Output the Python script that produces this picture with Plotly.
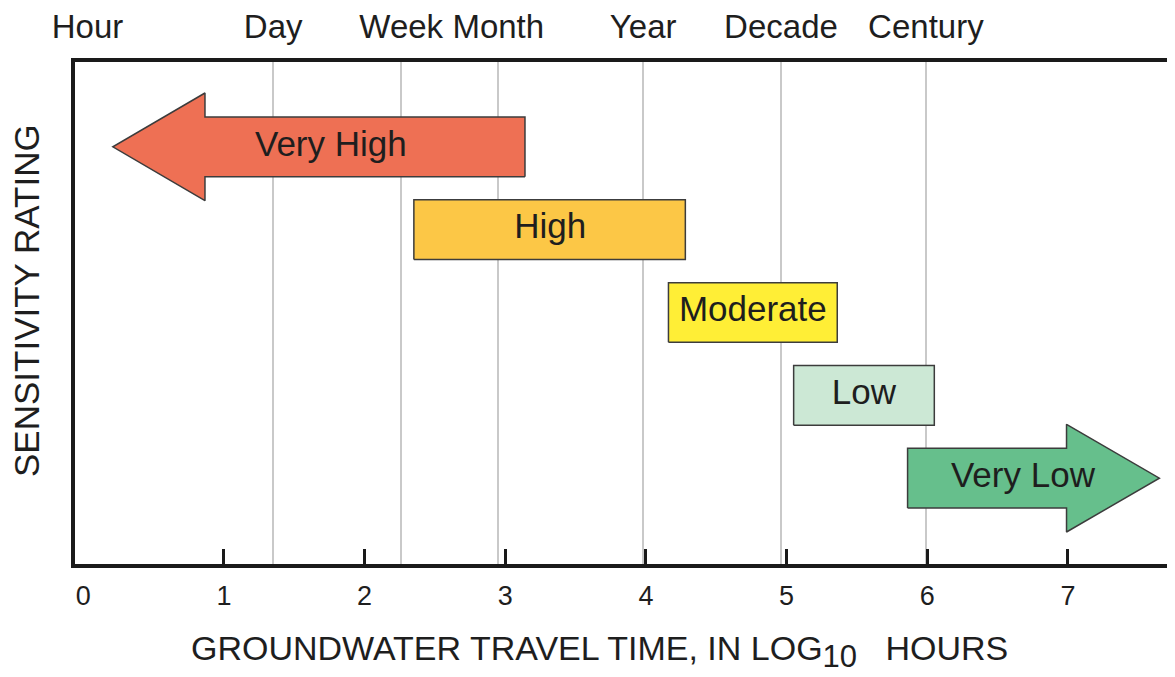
import plotly.graph_objects as go

# ---------------- data ----------------
ratings = ["Very High", "High", "Moderate", "Low", "Very Low"]
rating_level = [5, 4, 3, 2, 1]
range_start = [0.21, 2.35, 4.16, 5.05, 5.86]      # log10 hours
range_end = [3.14, 4.28, 5.36, 6.05, 7.65]        # log10 hours
arrow_head_base = [0.865, None, None, None, 6.99]
shape_kind = ["left", "box", "box", "box", "right"]
label_x = [1.76, 3.32, 4.76, 5.55, 6.68]
fill_colors = ["#EE7054", "#FCC746", "#FFEE36", "#CCE8D5", "#66BF8C"]

time_units = ["Hour", "Day", "Week", "Month", "Year", "Decade", "Century"]
time_unit_log_hours = [0.03, 1.35, 2.26, 2.95, 3.98, 4.96, 5.99]

x_ticks = [0, 1, 2, 3, 4, 5, 6, 7]
x_tick_labels = ["0", "1", "2", "3", "4", "5", "6", "7"]

x_title = ("GROUNDWATER TRAVEL TIME, IN LOG"
           "<sub><span style='font-size:31px'>10</span></sub>&nbsp;&nbsp;&nbsp;HOURS")
y_title = "SENSITIVITY RATING"

# ---------------- styling ----------------
FONT = "Liberation Sans, Arial, Helvetica, sans-serif"
TXT = "#1e1e1e"
BOX_H = 0.36     # half height of box / shaft (y units)
HEAD_H = 0.65    # half height of arrow head
X_RANGE = [-0.059, 7.818]
Y_RANGE = [-0.036, 6.024]

fig = go.Figure()

for name, lvl, x0, x1, hb, kind, col in zip(ratings, rating_level, range_start,
                                            range_end, arrow_head_base, shape_kind,
                                            fill_colors):
    if kind == "box":
        xs = [x0, x1, x1, x0, x0]
        ys = [lvl - BOX_H, lvl - BOX_H, lvl + BOX_H, lvl + BOX_H, lvl - BOX_H]
    elif kind == "left":
        xs = [x1, hb, hb, x0, hb, hb, x1, x1]
        ys = [lvl - BOX_H, lvl - BOX_H, lvl - HEAD_H, lvl, lvl + HEAD_H,
              lvl + BOX_H, lvl + BOX_H, lvl - BOX_H]
    else:
        xs = [x0, hb, hb, x1, hb, hb, x0, x0]
        ys = [lvl - BOX_H, lvl - BOX_H, lvl - HEAD_H, lvl, lvl + HEAD_H,
              lvl + BOX_H, lvl + BOX_H, lvl - BOX_H]
    fig.add_trace(go.Scatter(
        x=xs, y=ys, mode="lines", fill="toself", fillcolor=col,
        line=dict(color="#3c3c3c", width=1.5), hoverinfo="skip",
        showlegend=False, name=name))

fig.add_trace(go.Scatter(
    x=label_x, y=rating_level, mode="text", text=ratings,
    textposition="middle center",
    textfont=dict(family=FONT, size=35, color=TXT),
    hoverinfo="skip", showlegend=False))

# invisible trace that anchors the top (time unit) axis
fig.add_trace(go.Scatter(
    x=time_unit_log_hours, y=[rating_level[0]] * len(time_units),
    xaxis="x2", mode="markers", marker=dict(opacity=0),
    hoverinfo="skip", showlegend=False))

fig.update_layout(
    width=1175, height=677,
    margin=dict(l=67, r=0, t=52, b=121),
    paper_bgcolor="white", plot_bgcolor="white",
    font=dict(family=FONT, color=TXT),
    xaxis=dict(
        range=X_RANGE, showgrid=False, zeroline=False,
        showline=True, linecolor="#1a1a1a", linewidth=4, mirror=True,
        tickmode="array", tickvals=x_ticks, ticktext=x_tick_labels,
        ticks="", ticklabelstandoff=5,
        tickfont=dict(family=FONT, size=27, color=TXT),
        minor=dict(tickmode="array", tickvals=x_ticks[1:], ticks="inside",
                   ticklen=15, tickwidth=3, tickcolor="#1a1a1a", showgrid=False),
    ),
    xaxis2=dict(
        range=X_RANGE, overlaying="x", side="top", zeroline=False,
        showline=False, showgrid=False,
        tickmode="array", tickvals=time_unit_log_hours, ticktext=time_units,
        ticks="", ticklabelstandoff=16,
        tickfont=dict(family=FONT, size=33, color=TXT),
        minor=dict(tickmode="array", tickvals=time_unit_log_hours[1:], ticks="",
                   showgrid=True, gridcolor="#c9c9c9", gridwidth=1.5),
    ),
    yaxis=dict(
        range=Y_RANGE, showgrid=False, zeroline=False, showticklabels=False,
        ticks="", showline=True, linecolor="#1a1a1a", linewidth=4, mirror=False,
    ),
    annotations=[
        dict(text=x_title, xref="paper", yref="paper", x=0.4738, y=-0.175,
             xanchor="center", yanchor="middle", showarrow=False,
             font=dict(family=FONT, size=34, color=TXT)),
        dict(text=y_title, xref="paper", yref="paper", x=-0.0433, y=0.524,
             xanchor="center", yanchor="middle", textangle=-90, showarrow=False,
             font=dict(family=FONT, size=35, color=TXT)),
    ],
)

fig.write_html("out.html")
